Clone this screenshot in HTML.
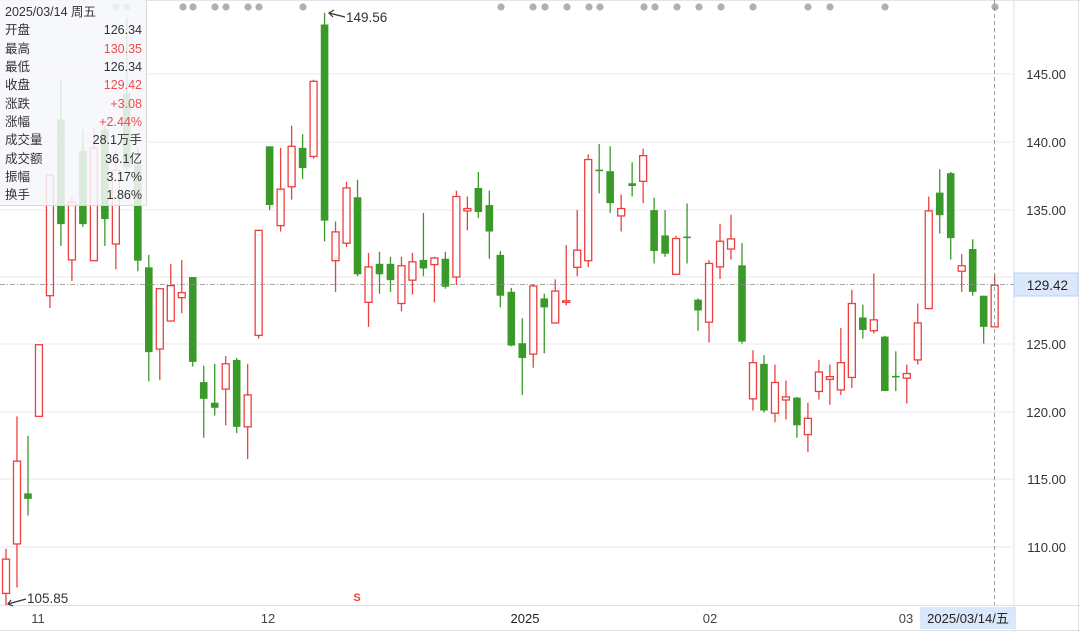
<!DOCTYPE html>
<html><head><meta charset="utf-8">
<style>
html,body{margin:0;padding:0;background:#fff;}
body{width:1080px;height:632px;overflow:hidden;position:relative;font-family:"Liberation Sans","Noto Sans CJK SC",sans-serif;}
svg{position:absolute;left:0;top:0;}
#tip{position:absolute;left:0;top:0;width:146px;height:205px;background:rgba(246,247,250,0.86);border:1px solid #d8dbe0;border-left:none;border-top:none;font-size:12.5px;color:#333;}
#tip div{position:absolute;left:5px;right:4px;height:18px;line-height:18px;}
#tip span{position:absolute;right:0;top:0;}
.r{color:#ee4b4b;}
</style></head><body>
<svg id="s" width="1080" height="632" xmlns="http://www.w3.org/2000/svg"></svg>
<div id="tip">
<div style="top:3px">2025/03/14 周五</div>
<div style="top:21px">开盘<span>126.34</span></div>
<div style="top:39.5px">最高<span class="r">130.35</span></div>
<div style="top:58px">最低<span>126.34</span></div>
<div style="top:76px">收盘<span class="r">129.42</span></div>
<div style="top:94.5px">涨跌<span class="r">+3.08</span></div>
<div style="top:113px">涨幅<span class="r">+2.44%</span></div>
<div style="top:131px">成交量<span>28.1万手</span></div>
<div style="top:149.5px">成交额<span>36.1亿</span></div>
<div style="top:168px">振幅<span>3.17%</span></div>
<div style="top:186px">换手<span>1.86%</span></div>
</div>
<script>
var D=[
['r',1410,1437,1525,1555],['r',1070,1185,1398,1510],['g',1120,1268,1282,1325],['r',886,886,1070,1070],
['r',450,450,760,792],['g',205,307,576,632],['r',505,520,668,722],['g',333,388,576,583],
['r',330,380,670,670],['g',323,333,563,632],['r',385,437,627,692],['g',45,240,430,440],
['g',380,425,670,697],['g',655,687,905,980],['r',740,742,897,977],['r',678,734,825,825],
['r',668,752,765,805],['g',712,712,930,942],['g',940,982,1025,1125],['g',935,1035,1048,1068],
['r',915,935,1000,1093],['g',920,925,1097,1113],['r',935,1015,1097,1180],['r',590,592,862,870],
['g',376,376,527,540],['r',380,486,580,595],['r',323,376,480,513],['g',345,380,432,460],
['r',205,209,402,408],['g',33,63,567,620],['r',569,596,670,750],['r',467,483,625,635],
['g',462,507,705,710],['r',650,686,777,840],['g',647,678,705,755],['g',660,678,720,750],
['r',660,683,780,800],['r',650,673,720,757],['g',547,668,690,710],['r',660,663,680,777],
['g',647,665,737,742],['r',490,505,712,732],['r',505,536,542,592],['g',442,483,545,560],
['g',490,527,595,665],['g',645,655,760,790],['g',740,750,888,890],['g',818,882,920,1015],
['r',730,735,910,945],['g',755,767,790,908],['r',718,748,830,830],['r',630,773,777,785],
['r',540,643,687,710],['r',397,410,670,687],['g',370,436,440,497],['g',376,440,522,547],
['r',500,536,555,595],['g',417,471,478,505],['r',382,400,466,522],['g',508,540,645,677],
['g',540,605,652,660],['r',606,613,705,707],['g',523,608,612,677],['g',767,770,798,850],
['r',668,677,828,880],['r',575,620,686,717],['r',552,614,640,667],['g',625,682,878,883],
['r',900,932,1025,1055],['g',913,935,1055,1060],['r',937,983,1062,1085],['r',978,1020,1028,1078],
['g',1020,1022,1093,1125],['r',1035,1075,1117,1162],['r',925,956,1006,1027],['r',937,968,975,1040],
['r',843,932,1002,1015],['r',745,780,970,997],['g',783,816,848,870],['r',703,822,850,857],
['g',863,865,1005,1005],['g',903,966,970,1005],['r',937,960,972,1037],['r',780,830,925,937],
['r',505,542,793,795],['g',435,495,553,600],['g',442,445,612,667],['r',653,683,697,750],
['g',615,640,750,760],['g',760,760,840,883],['r',705,733,840,840]];
var h='';
// grid
var gy=[74,142,210,277,344,412,479,547];
gy.forEach(function(y){h+='<line x1="0" x2="1014" y1="'+y+'" y2="'+y+'" stroke="#e9e9ee" stroke-width="1"/>';});
// dots
[116,127,183,193,215,226,248,259,303,501,533,545,567,589,600,644,655,677,699,721,753,808,830,885,995].forEach(function(x){h+='<circle cx="'+x+'" cy="7" r="3.6" fill="#b0b0b0"/>';});
// axis lines
h+='<line x1="1014" x2="1014" y1="0" y2="632" stroke="#dcdfe6"/>';
h+='<line x1="0" x2="1080" y1="605.5" y2="605.5" stroke="#dcdfe6"/>';
h+='<line x1="0" x2="1080" y1="0.5" y2="0.5" stroke="#e3e5ea"/>';
h+='<line x1="1078.5" x2="1078.5" y1="0" y2="632" stroke="#dcdfe6"/>';
h+='<line x1="0" x2="1080" y1="630.5" y2="630.5" stroke="#dcdfe6"/>';
// candles
var k=2.57;
D.forEach(function(c,i){
 var x=6+10.985*i, col=c[0]=='r'?'#ee3f3f':'#3a9a29';
 var wt=c[1]/k,bt=c[2]/k,bb=c[3]/k,wb=c[4]/k;
 if(bb-bt<1.5){bb=bt+1.5;}
 h+='<line x1="'+x+'" x2="'+x+'" y1="'+wt+'" y2="'+wb+'" stroke="'+col+'" stroke-width="1.3"/>';
 if(c[0]=='r') h+='<rect x="'+(x-3.5)+'" y="'+bt+'" width="7" height="'+(bb-bt)+'" fill="#fff" stroke="'+col+'" stroke-width="1.3"/>';
 else h+='<rect x="'+(x-3.8)+'" y="'+bt+'" width="7.6" height="'+(bb-bt)+'" fill="'+col+'"/>';
});
// crosshair
h+='<line x1="0" x2="1014" y1="284.5" y2="284.5" stroke="#888" stroke-dasharray="5,2,1,2" stroke-width="0.8"/>';
h+='<line x1="994.5" x2="994.5" y1="0" y2="605" stroke="#888" stroke-dasharray="4,3" stroke-width="0.8"/>';
// y labels
var lab=[[74,'145.00'],[142,'140.00'],[210,'135.00'],[277,'130.00'],[344,'125.00'],[412,'120.00'],[479,'115.00'],[547,'110.00']];
lab.forEach(function(l){h+='<text x="1066" y="'+(l[0]+5)+'" text-anchor="end" font-size="13" fill="#333" font-family="Liberation Sans,sans-serif">'+l[1]+'</text>';});
h+='<rect x="1014" y="273" width="64" height="23" fill="#dbe8fb" stroke="#b9d1f3"/>';
h+='<text x="1068" y="290" text-anchor="end" font-size="13.5" fill="#222" font-family="Liberation Sans,sans-serif">129.42</text>';
// x labels
[[38,'11'],[268,'12'],[525,'2025'],[710,'02'],[906,'03']].forEach(function(l){h+='<text x="'+l[0]+'" y="623" text-anchor="middle" font-size="13" fill="'+(l[1]=='2025'?'#222':'#444')+'" font-family="Liberation Sans,sans-serif">'+l[1]+'</text>';});
h+='<rect x="920" y="607" width="96" height="22" fill="#dbe8fb"/>';
h+='<text x="968" y="623" text-anchor="middle" font-size="13" fill="#222" font-family="Liberation Sans,sans-serif">2025/03/14/五</text>';
h+='<text x="357" y="601" text-anchor="middle" font-size="11" font-weight="bold" fill="#ee3f3f" font-family="Liberation Sans,sans-serif">S</text>';
// annotations
h+='<line x1="329" y1="13" x2="345" y2="17" stroke="#333" stroke-width="1.2"/><polyline points="334,10 329,13 333,17" fill="none" stroke="#333" stroke-width="1.2"/>';
h+='<text x="346" y="22" font-size="13.5" fill="#333" font-family="Liberation Sans,sans-serif">149.56</text>';
h+='<line x1="8" y1="604" x2="26" y2="599" stroke="#333" stroke-width="1.2"/><polyline points="11,600 8,604 13,606" fill="none" stroke="#333" stroke-width="1.2"/>';
h+='<text x="27" y="603" font-size="13.5" fill="#333" font-family="Liberation Sans,sans-serif">105.85</text>';
document.getElementById('s').innerHTML=h;
</script>
</body></html>
